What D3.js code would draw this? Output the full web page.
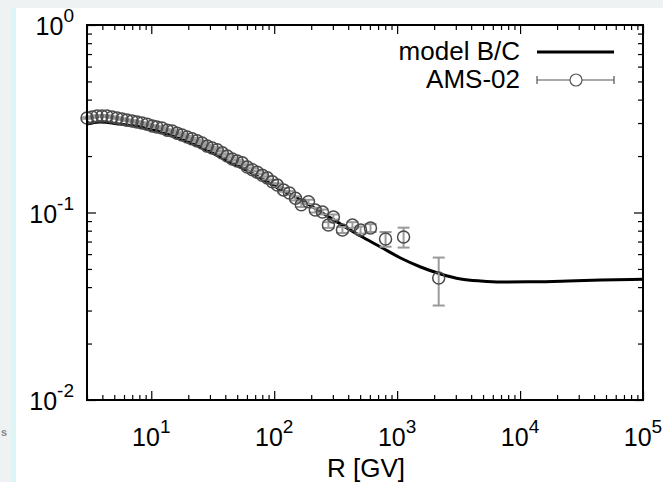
<!DOCTYPE html>
<html>
<head>
<meta charset="utf-8">
<script src="https://cdn.jsdelivr.net/npm/d3@7"></script>
<style>
  body { margin: 0; background: #fff; }
  svg { display: block; font-family: "Liberation Sans", Arial, sans-serif; }
</style>
</head>
<body>
<svg id="chart" width="663" height="482"></svg>
<script>
// model curve (rigidity in GV, B/C ratio)
const modelR = [3, 3.8, 5.6, 8.1, 11.8, 17.2, 25, 36, 53, 77, 112, 163, 238, 346, 504, 733, 1066, 1553, 2260, 3290, 4790, 6970, 12900, 24500, 45500, 100000];
const modelBC = [0.296, 0.304, 0.296, 0.286, 0.269, 0.247, 0.224, 0.198, 0.175, 0.153, 0.133, 0.117, 0.101, 0.0868, 0.0749, 0.0655, 0.0572, 0.0512, 0.0470, 0.0442, 0.0431, 0.0426, 0.0427, 0.0431, 0.0436, 0.0441];

// AMS-02 points
const amsR = [3.00, 3.30, 3.62, 3.97, 4.36, 4.80, 5.27, 5.78, 6.35, 6.98, 7.66, 8.41, 9.25, 10.2, 11.1, 12.2, 13.5, 14.8, 16.2, 17.8, 19.6, 21.5, 23.6, 25.9, 28.5, 31.3, 34.4, 37.8, 41.5, 45.6, 50.0, 55.0, 60.4, 66.4, 72.8, 80.0, 87.9, 96.6, 106, 119, 133, 149, 166, 190, 216, 247, 276, 303, 359, 433, 504, 607, 805, 1128, 2178];
const amsBC = [0.319, 0.323, 0.327, 0.327, 0.327, 0.323, 0.319, 0.315, 0.311, 0.308, 0.304, 0.300, 0.296, 0.289, 0.286, 0.282, 0.275, 0.272, 0.265, 0.259, 0.253, 0.247, 0.241, 0.235, 0.226, 0.221, 0.216, 0.208, 0.200, 0.193, 0.188, 0.184, 0.175, 0.169, 0.164, 0.158, 0.153, 0.146, 0.140, 0.132, 0.127, 0.119, 0.110, 0.114, 0.103, 0.1007, 0.0858, 0.0946, 0.0807, 0.0858, 0.0807, 0.0827, 0.0722, 0.0740, 0.0447];
const amsErr = [0.003, 0.003, 0.003, 0.003, 0.003, 0.003, 0.003, 0.003, 0.003, 0.003, 0.003, 0.003, 0.003, 0.003, 0.003, 0.003, 0.003, 0.003, 0.003, 0.003, 0.003, 0.003, 0.003, 0.003, 0.003, 0.003, 0.003, 0.003, 0.003, 0.003, 0.003, 0.003, 0.003, 0.003, 0.003, 0.003, 0.003, 0.003, 0.003, 0.003, 0.003, 0.003, 0.003, 0.003, 0.003, 0.003, 0.003, 0.003, 0.003, 0.003, 0.0035, 0.004, 0.0065, 0.009, 0.0128];

const xMajor = [10, 100, 1000, 10000, 100000];
const xExp = ["1", "2", "3", "4", "5"];
const yMajor = [1, 0.1, 0.01];
const yExp = ["0", "-1", "-2"];

const svg = d3.select("#chart");
const W = 663, H = 482;
const L = 87, R = 643, T = 25, B = 400;

// screenshot background bits
svg.append("rect").attr("x", 0).attr("y", 0).attr("width", W).attr("height", 8).attr("fill", "#eef2f2");
svg.append("rect").attr("x", 0).attr("y", 0).attr("width", 11).attr("height", H).attr("fill", "#eef2f2");
svg.append("rect").attr("x", 11).attr("y", 8).attr("width", 5).attr("height", H - 8).attr("fill", "#dcf6f7");
svg.append("text").attr("x", 1).attr("y", 436).attr("font-size", 11).attr("font-weight", "bold").attr("fill", "#888").text("s");

const x = d3.scaleLog().domain([3, 1e5]).range([L, R]);
const y = d3.scaleLog().domain([0.01, 1]).range([B, T]);

const xMinor = x.ticks().filter(d => !xMajor.includes(d));
const yMinor = y.ticks().filter(d => !yMajor.includes(d));

const tickG = svg.append("g").attr("stroke", "#000");
function addAxis(axis, tx, ty) {
  tickG.append("g").attr("transform", `translate(${tx},${ty})`).call(axis)
    .call(g => g.select(".domain").remove())
    .call(g => g.selectAll("line").attr("stroke", "#000").attr("stroke-width", 1.2));
}
addAxis(d3.axisBottom(x).tickValues(xMajor).tickSize(-9).tickFormat(""), 0, B);
addAxis(d3.axisBottom(x).tickValues(xMinor).tickSize(-5).tickFormat(""), 0, B);
addAxis(d3.axisTop(x).tickValues(xMajor).tickSize(-9).tickFormat(""), 0, T);
addAxis(d3.axisTop(x).tickValues(xMinor).tickSize(-5).tickFormat(""), 0, T);
addAxis(d3.axisLeft(y).tickValues(yMajor).tickSize(-9).tickFormat(""), L, 0);
addAxis(d3.axisLeft(y).tickValues(yMinor).tickSize(-5).tickFormat(""), L, 0);
addAxis(d3.axisRight(y).tickValues(yMajor).tickSize(-9).tickFormat(""), R, 0);
addAxis(d3.axisRight(y).tickValues(yMinor).tickSize(-5).tickFormat(""), R, 0);

// tick labels
const xl = svg.append("g").selectAll("text").data(xMajor).join("text")
  .attr("x", d => x(d)).attr("y", 446).attr("text-anchor", "middle").attr("font-size", 25);
xl.append("tspan").text("10");
xl.append("tspan").attr("dy", -13).attr("font-size", 19).text((d, i) => xExp[i]);

const yl = svg.append("g").selectAll("text").data(yMajor).join("text")
  .attr("x", 74).attr("y", d => y(d) + 10).attr("text-anchor", "end").attr("font-size", 25);
yl.append("tspan").text("10");
yl.append("tspan").attr("dy", -13).attr("font-size", 19).text((d, i) => yExp[i]);

svg.append("text").attr("x", 366).attr("y", 477).attr("text-anchor", "middle")
  .attr("font-size", 26).text("R [GV]");

// data
const plot = svg.append("g");
const line = d3.line().x(d => x(d[0])).y(d => y(d[1])).curve(d3.curveMonotoneX);
plot.append("path").datum(d3.zip(modelR, modelBC)).attr("d", line)
  .attr("fill", "none").attr("stroke", "#000").attr("stroke-width", 3);

const pts = d3.range(amsR.length).map(i => ({ r: amsR[i], v: amsBC[i], e: amsErr[i] }));
const eb = plot.append("g").attr("stroke", "#9a9a9a").attr("stroke-width", 2);
eb.selectAll("line.v").data(pts).join("line").attr("class", "v")
  .attr("x1", d => x(d.r)).attr("x2", d => x(d.r))
  .attr("y1", d => y(d.v + d.e)).attr("y2", d => y(d.v - d.e));
eb.selectAll("line.t").data(pts).join("line").attr("class", "t")
  .attr("x1", d => x(d.r) - 6).attr("x2", d => x(d.r) + 6)
  .attr("y1", d => y(d.v + d.e)).attr("y2", d => y(d.v + d.e));
eb.selectAll("line.b").data(pts).join("line").attr("class", "b")
  .attr("x1", d => x(d.r) - 6).attr("x2", d => x(d.r) + 6)
  .attr("y1", d => y(d.v - d.e)).attr("y2", d => y(d.v - d.e));
plot.append("g").selectAll("circle").data(pts).join("circle")
  .attr("cx", d => x(d.r)).attr("cy", d => y(d.v)).attr("r", 6)
  .attr("fill", "none").attr("stroke", "#4a4a4a").attr("stroke-width", 1.5);

// frame
svg.append("rect").attr("x", L).attr("y", T).attr("width", R - L).attr("height", B - T)
  .attr("fill", "none").attr("stroke", "#000").attr("stroke-width", 2);

// legend
const lg = svg.append("g").attr("font-size", 26);
lg.append("text").attr("x", 520).attr("y", 60).attr("text-anchor", "end").text("model B/C");
lg.append("line").attr("x1", 537).attr("x2", 614).attr("y1", 52).attr("y2", 52)
  .attr("stroke", "#000").attr("stroke-width", 3);
lg.append("text").attr("x", 520).attr("y", 88).attr("text-anchor", "end").text("AMS-02");
const le = lg.append("g").attr("stroke", "#555").attr("stroke-width", 1.2).attr("fill", "none");
le.append("line").attr("x1", 537).attr("x2", 614).attr("y1", 80).attr("y2", 80);
le.append("line").attr("x1", 537).attr("x2", 537).attr("y1", 76).attr("y2", 84);
le.append("line").attr("x1", 614).attr("x2", 614).attr("y1", 76).attr("y2", 84);
le.append("circle").attr("cx", 576).attr("cy", 80).attr("r", 6).attr("fill", "#fff");
</script>
</body>
</html>
